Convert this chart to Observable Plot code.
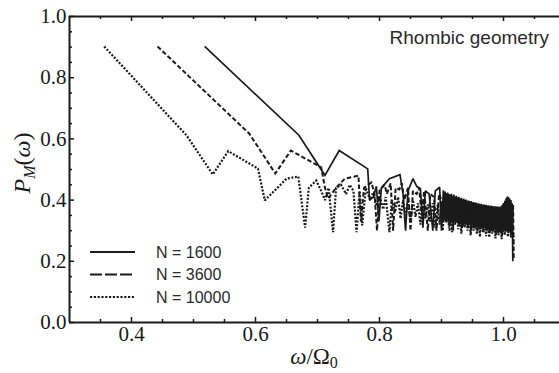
<!DOCTYPE html>
<html><head><meta charset="utf-8">
<script src="https://cdn.jsdelivr.net/npm/d3@7"></script>
<script src="https://cdn.jsdelivr.net/npm/@observablehq/plot@0.6"></script>
<style>body{margin:0;background:#fff;} #chart{width:559px;height:373px;overflow:hidden}
svg text.tick-label{font-family:"Liberation Serif", "Times New Roman", serif !important;}</style>
</head><body><div id="chart"></div>
<script>
// ---- data ----
const seriesLabels = ["N = 1600", "N = 3600", "N = 10000"];
const xMajor = [0.4, 0.6, 0.8, 1.0];
const xMinor = [0.35, 0.45, 0.5, 0.55, 0.65, 0.7, 0.75, 0.85, 0.9, 0.95, 1.05];
const yMajor = [0, 0.2, 0.4, 0.6, 0.8, 1.0];
const yMinor = [0.05,0.1,0.15,0.25,0.3,0.35,0.45,0.5,0.55,0.65,0.7,0.75,0.85,0.9,0.95];
const titleText = "Rhombic geometry";

const n1600 = [
[0.518,0.902],[0.670,0.612],[0.712,0.481],[0.735,0.562],[0.781,0.502],[0.784,0.400],[0.790,0.410],
[0.795,0.445],[0.799,0.330],[0.803,0.440],[0.816,0.470],[0.833,0.483],[0.838,0.420],[0.842,0.300],
[0.846,0.430],[0.854,0.470],[0.860,0.445],[0.866,0.437],[0.870,0.310],[0.874,0.430],[0.880,0.420],
[0.886,0.300],[0.890,0.430],[0.897,0.442],[0.900,0.300],[0.903,0.432],
[0.905,0.335],[0.906,0.428],[0.907,0.330],[0.908,0.422],[0.909,0.338],[0.910,0.425],[0.911,0.328],
[0.912,0.420],[0.913,0.334],[0.914,0.418],[0.915,0.326],[0.916,0.421],[0.917,0.332],[0.918,0.415],
[0.919,0.300],[0.920,0.418],[0.921,0.330],[0.922,0.412],[0.923,0.325],[0.924,0.414],[0.925,0.331],
[0.926,0.409],[0.927,0.322],[0.928,0.411],[0.929,0.328],[0.930,0.406],[0.931,0.320],[0.932,0.408],
[0.933,0.326],[0.934,0.403],[0.935,0.318],[0.936,0.405],[0.937,0.324],[0.938,0.400],[0.939,0.316],
[0.940,0.402],[0.941,0.322],[0.942,0.398],[0.943,0.314],[0.944,0.399],[0.945,0.320],[0.946,0.395],
[0.947,0.312],[0.948,0.397],[0.949,0.318],[0.950,0.393],[0.951,0.310],[0.952,0.394],[0.953,0.316],
[0.954,0.391],[0.955,0.308],[0.956,0.392],[0.957,0.314],[0.958,0.389],[0.959,0.306],[0.960,0.390],
[0.961,0.312],[0.962,0.387],[0.963,0.305],[0.964,0.388],[0.965,0.311],[0.966,0.385],[0.967,0.303],
[0.968,0.386],[0.969,0.309],[0.970,0.384],[0.971,0.302],[0.972,0.385],[0.973,0.308],[0.974,0.382],
[0.975,0.300],[0.976,0.383],[0.977,0.306],[0.978,0.381],[0.979,0.299],[0.980,0.382],[0.981,0.305],
[0.982,0.380],[0.983,0.298],[0.984,0.381],[0.985,0.304],[0.986,0.379],[0.987,0.297],[0.988,0.380],
[0.989,0.303],[0.990,0.378],[0.991,0.296],[0.992,0.379],[0.993,0.302],[0.994,0.377],[0.995,0.295],
[0.996,0.380],[0.997,0.301],[0.998,0.385],[0.999,0.296],[1.000,0.390],[1.001,0.300],[1.002,0.398],
[1.003,0.295],[1.004,0.405],[1.005,0.300],[1.006,0.412],[1.007,0.296],[1.008,0.410],[1.009,0.300],
[1.010,0.405],[1.011,0.295],[1.012,0.400],[1.013,0.300],[1.014,0.390],[1.015,0.200]
];
const n3600 = [
[0.442,0.902],[0.590,0.617],[0.632,0.487],[0.657,0.562],[0.706,0.507],[0.712,0.440],[0.717,0.405],
[0.730,0.440],[0.744,0.470],[0.766,0.480],[0.770,0.330],[0.775,0.440],[0.787,0.458],[0.792,0.420],
[0.796,0.300],[0.800,0.430],[0.808,0.450],[0.812,0.420],[0.818,0.455],[0.822,0.300],[0.826,0.440],
[0.832,0.435],[0.836,0.455],[0.840,0.400],[0.846,0.440],[0.850,0.300],[0.854,0.430],[0.860,0.420],
[0.864,0.440],[0.868,0.350],[0.872,0.430],[0.878,0.300],[0.882,0.420],[0.888,0.410],[0.892,0.300],
[0.896,0.420],[0.900,0.400],
[0.903,0.330],[0.9055,0.415],[0.908,0.325],[0.9105,0.410],[0.913,0.300],[0.9155,0.405],[0.918,0.320],
[0.9205,0.400],[0.923,0.330],[0.9255,0.398],[0.928,0.315],[0.9305,0.396],[0.933,0.305],[0.9355,0.395],
[0.938,0.322],[0.9405,0.390],[0.943,0.310],[0.9455,0.388],[0.948,0.300],[0.9505,0.386],[0.953,0.312],
[0.9555,0.384],[0.958,0.298],[0.9605,0.382],[0.963,0.305],[0.9655,0.380],[0.968,0.295],[0.9705,0.378],
[0.973,0.300],[0.9755,0.376],[0.978,0.290],[0.9805,0.375],[0.983,0.298],[0.9855,0.373],[0.988,0.288],
[0.9905,0.372],[0.993,0.295],[0.9955,0.374],[0.998,0.285],[1.0005,0.390],[1.003,0.300],[1.0055,0.405],
[1.008,0.292],[1.0105,0.400],[1.013,0.290],[1.0155,0.385],[1.0165,0.210]
];
const n10000 = [
[0.356,0.902],[0.489,0.611],[0.531,0.484],[0.556,0.560],[0.604,0.503],[0.615,0.399],[0.650,0.470],
[0.669,0.477],[0.680,0.310],[0.686,0.440],[0.698,0.464],[0.706,0.430],[0.712,0.400],[0.718,0.440],
[0.725,0.295],[0.730,0.440],[0.738,0.450],[0.746,0.420],[0.752,0.450],[0.758,0.430],[0.763,0.295],
[0.768,0.430],[0.772,0.317],[0.778,0.440],[0.785,0.400],[0.790,0.425],[0.795,0.380],[0.800,0.415],
[0.806,0.370],[0.810,0.410],[0.816,0.295],[0.820,0.400],[0.825,0.360],[0.830,0.410],[0.834,0.340],
[0.838,0.400],[0.842,0.350],[0.846,0.395],[0.850,0.330],[0.854,0.400],[0.858,0.345],[0.862,0.390],
[0.866,0.320],[0.870,0.395],[0.874,0.340],[0.878,0.385],[0.882,0.330],[0.886,0.390],[0.890,0.310],
[0.894,0.385],
[0.897,0.320],[0.8995,0.390],[0.902,0.300],[0.9045,0.385],[0.907,0.330],[0.9095,0.382],[0.912,0.310],
[0.9145,0.380],[0.917,0.295],[0.9195,0.378],[0.922,0.320],[0.9245,0.376],[0.927,0.305],[0.9295,0.375],
[0.932,0.290],[0.9345,0.373],[0.937,0.310],[0.9395,0.372],[0.942,0.300],[0.9445,0.370],[0.947,0.285],
[0.9495,0.368],[0.952,0.300],[0.9545,0.367],[0.957,0.288],[0.9595,0.365],[0.962,0.280],[0.9645,0.364],
[0.967,0.295],[0.9695,0.362],[0.972,0.282],[0.9745,0.360],[0.977,0.278],[0.9795,0.358],[0.982,0.290],
[0.9845,0.357],[0.987,0.275],[0.9895,0.356],[0.992,0.285],[0.9945,0.355],[0.997,0.272],[0.9995,0.370],
[1.002,0.285],[1.0045,0.395],[1.007,0.280],[1.0095,0.392],[1.012,0.278],[1.0145,0.375],[1.016,0.250]
];
const seriesData = [n1600, n3600, n10000];

// ---- styles ----
const ink = "#1a1a1a";
const serif = "Liberation Serif";
const sans = "Liberation Sans";
const lineStyles = [
  {strokeWidth: 1.7, strokeDasharray: "none"},
  {strokeWidth: 2.0, strokeDasharray: "4.5,2.4"},
  {strokeWidth: 2.2, strokeDasharray: "2,1.6"}
];
const legendDash = ["none", "12,3", "2.2,1.6"];

const W = 559, H = 373, ML = 69, MR = 0, MT = 16, MB = 51;
const plotH = H - MT - MB, plotW = W - ML - MR;
const xPerUnit = 620;
const fmt = d3.format(".1f");

const svg = Plot.plot({
  width: W, height: H, marginLeft: ML, marginRight: MR, marginTop: MT, marginBottom: MB,
  x: {domain: [0.3, 0.3 + plotW / xPerUnit], axis: null},
  y: {domain: [0, 1], axis: null},
  style: {background: "white", color: ink},
  marks: [
    Plot.text(xMajor, {x: d => d, frameAnchor: "bottom", lineAnchor: "top", dy: 4, text: d => fmt(d),
      fontFamily: serif, fontSize: 21, fill: ink, className: "xtl"}),
    Plot.text(yMajor, {y: d => d, frameAnchor: "left", textAnchor: "end", dx: -3, text: d => fmt(d),
      fontFamily: serif, fontSize: 21, fill: ink, className: "ytl"}),
    ...seriesData.map((s, i) => Plot.line(s, {x: d => d[0], y: d => d[1], stroke: ink,
      strokeWidth: lineStyles[i].strokeWidth, strokeDasharray: lineStyles[i].strokeDasharray,
      strokeLinecap: "butt", strokeLinejoin: "miter", strokeMiterlimit: 2})),
    Plot.tickX(xMajor, {x: d => d, insetTop: plotH - 5, stroke: ink, strokeWidth: 1.5}),
    Plot.tickX(xMinor, {x: d => d, insetTop: plotH - 3, stroke: ink, strokeWidth: 1.5}),
    Plot.tickX(xMajor, {x: d => d, insetBottom: plotH - 5, stroke: ink, strokeWidth: 1.5}),
    Plot.tickX(xMinor, {x: d => d, insetBottom: plotH - 3, stroke: ink, strokeWidth: 1.5}),
    Plot.tickY(yMajor, {y: d => d, insetRight: plotW - 5, stroke: ink, strokeWidth: 1.5}),
    Plot.tickY(yMinor, {y: d => d, insetRight: plotW - 3, stroke: ink, strokeWidth: 1.5}),
    Plot.ruleY([0, 1], {stroke: ink, strokeWidth: 2}),
    Plot.ruleX([0.3], {stroke: ink, strokeWidth: 2})
  ]
});

const s = d3.select(svg);
// force the serif face directly on every tick-label text element
s.selectAll("text").classed("tick-label", true)
  .style("font-family", "'Liberation Serif', 'Times New Roman', serif").style("font-size", "21px");

// title inside the frame
s.append("text").attr("x", 549).attr("y", 44).attr("text-anchor", "end")
  .style("font-family", sans).style("font-size", "19px")
  .attr("fill", "#2a2a2a").text(titleText);

// y label P_M(ω)
const yl = s.append("text").attr("transform", "translate(30,163) rotate(-90)").attr("text-anchor", "middle")
  .style("font-family", serif).style("font-size", "24px").attr("fill", ink);
yl.append("tspan").style("font-style", "italic").text("P");
yl.append("tspan").style("font-style", "italic").style("font-size", "16px").attr("dy", 5).text("M");
yl.append("tspan").attr("dy", -5).text("(");
yl.append("tspan").style("font-style", "italic").text("ω");
yl.append("tspan").text(")");

// x label ω/Ω0
const xl = s.append("text").attr("x", 314).attr("y", 364).attr("text-anchor", "middle")
  .style("font-family", serif).style("font-size", "23px").attr("fill", ink);
xl.append("tspan").style("font-style", "italic").text("ω");
xl.append("tspan").text("/Ω");
xl.append("tspan").style("font-size", "16px").attr("dy", 4).text("0");

// legend
const lg = s.append("g");
const legendY = [252, 274.5, 297];
seriesLabels.forEach((lab, i) => {
  lg.append("line").attr("x1", 90).attr("x2", 135).attr("y1", legendY[i]).attr("y2", legendY[i])
    .attr("stroke", ink).attr("stroke-width", i === 0 ? 2 : 2.2)
    .attr("stroke-dasharray", legendDash[i]);
  lg.append("text").attr("x", 156).attr("y", legendY[i]).attr("dy", "0.36em")
    .attr("text-anchor", "start")
    .style("font-family", sans).style("font-size", "16px")
    .attr("fill", "#2a2a2a").text(lab);
});

document.getElementById("chart").appendChild(svg);
</script></body></html>
